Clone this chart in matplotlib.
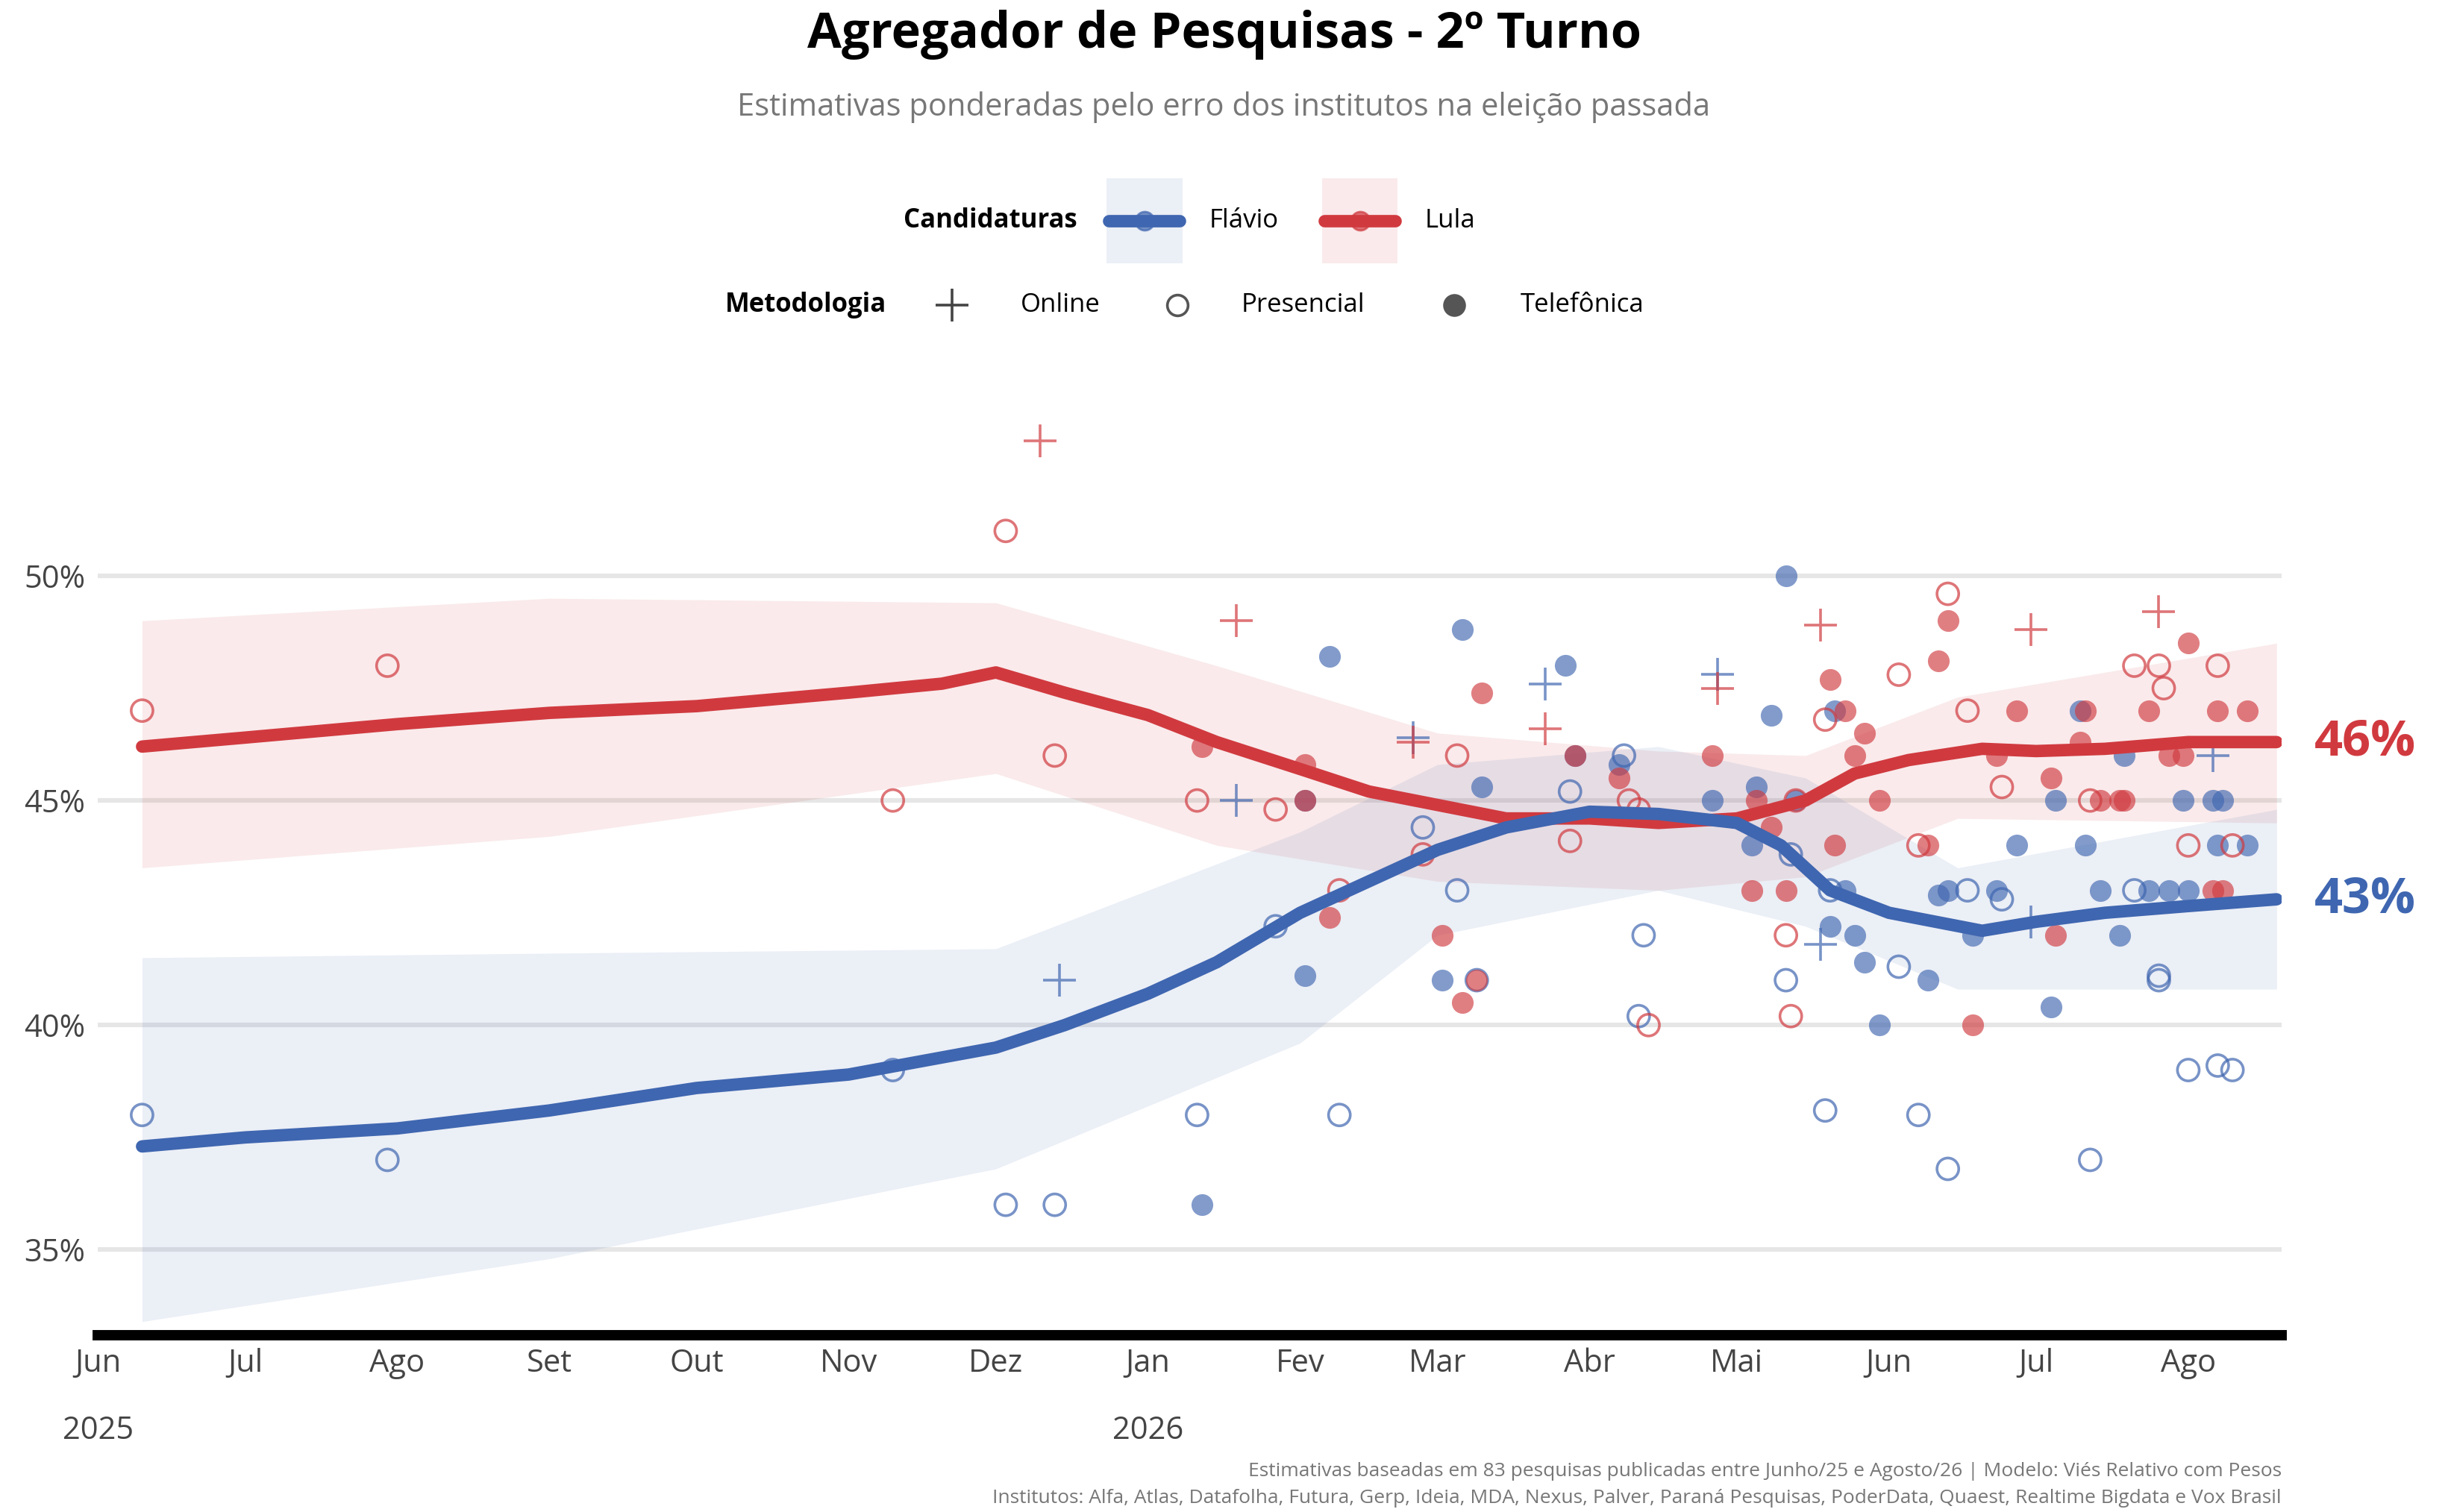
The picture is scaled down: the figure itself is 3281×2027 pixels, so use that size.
import matplotlib
matplotlib.use("Agg")
import matplotlib.pyplot as plt
import matplotlib.dates as mdates
import matplotlib.transforms as mtransforms
import pandas as pd
from matplotlib.lines import Line2D
from matplotlib.patches import Rectangle

BLUE = "#3F66B0"
RED = "#D03A3F"
FONT = "Open Sans"

# smoothed estimates
line_dates_lula = ["2025-06-10", "2025-07-01", "2025-08-01", "2025-09-01", "2025-10-01", "2025-11-01",
                   "2025-11-20", "2025-12-01", "2025-12-15", "2026-01-01", "2026-01-15", "2026-02-01",
                   "2026-02-15", "2026-03-01", "2026-03-15", "2026-04-01", "2026-04-15", "2026-05-01",
                   "2026-05-15", "2026-05-25", "2026-06-05", "2026-06-20", "2026-07-01", "2026-07-15",
                   "2026-08-01", "2026-08-19"]
lula_line = [46.2, 46.4, 46.7, 46.95, 47.1, 47.4, 47.6, 47.85, 47.4, 46.9, 46.3, 45.7,
             45.2, 44.9, 44.6, 44.6, 44.5, 44.6, 45.0, 45.6, 45.9, 46.15, 46.1, 46.15, 46.3, 46.3]

line_dates_flavio = ["2025-06-10", "2025-07-01", "2025-08-01", "2025-09-01", "2025-10-01", "2025-11-01",
                     "2025-12-01", "2025-12-15", "2026-01-01", "2026-01-15", "2026-02-01", "2026-02-15",
                     "2026-03-01", "2026-03-15", "2026-04-01", "2026-04-15", "2026-05-01", "2026-05-10",
                     "2026-05-20", "2026-06-01", "2026-06-20", "2026-07-01", "2026-07-15", "2026-08-01",
                     "2026-08-19"]
flavio_line = [37.3, 37.5, 37.7, 38.1, 38.6, 38.9, 39.5, 40.0, 40.7, 41.4, 42.5, 43.2,
               43.9, 44.4, 44.75, 44.7, 44.5, 44.0, 43.0, 42.5, 42.1, 42.3, 42.5, 42.65, 42.8]

band_dates_lula = ["2025-06-10", "2025-09-01", "2025-12-01", "2026-01-15", "2026-03-01", "2026-04-15",
                   "2026-05-15", "2026-06-15", "2026-08-19"]
lula_upper = [49.0, 49.5, 49.4, 48.0, 46.5, 46.1, 46.0, 47.3, 48.5]
lula_lower = [43.5, 44.2, 45.6, 44.0, 43.2, 43.0, 43.3, 44.6, 44.5]

band_dates_flavio = ["2025-06-10", "2025-09-01", "2025-12-01", "2026-02-01", "2026-03-01", "2026-04-15",
                     "2026-05-15", "2026-06-15", "2026-08-19"]
flavio_upper = [41.5, 41.6, 41.7, 44.3, 45.8, 46.2, 45.5, 43.5, 44.8]
flavio_lower = [33.4, 34.8, 36.8, 39.6, 42.0, 43.0, 42.2, 40.8, 40.8]

# polls: (date, value)
lula_presencial = [("2025-06-10", 47.0), ("2025-07-30", 48.0), ("2025-11-10", 45.0), ("2025-12-03", 51.0),
                   ("2025-12-13", 46.0), ("2026-01-11", 45.0), ("2026-01-27", 44.8), ("2026-02-09", 43.0),
                   ("2026-02-26", 43.8), ("2026-03-05", 46.0), ("2026-03-28", 44.1), ("2026-04-09", 45.0),
                   ("2026-04-11", 44.8), ("2026-04-13", 40.0), ("2026-05-11", 42.0), ("2026-05-12", 40.2),
                   ("2026-05-13", 45.0), ("2026-05-19", 46.8), ("2026-06-03", 47.8), ("2026-06-07", 44.0),
                   ("2026-06-13", 49.6), ("2026-06-17", 47.0), ("2026-06-24", 45.3), ("2026-07-12", 45.0),
                   ("2026-07-21", 48.0), ("2026-07-26", 48.0), ("2026-07-27", 47.5), ("2026-08-01", 44.0),
                   ("2026-08-07", 48.0), ("2026-08-10", 44.0)]
lula_telefonica = [("2026-01-12", 46.2), ("2026-02-02", 45.8), ("2026-02-02", 45.0), ("2026-02-07", 42.4),
                   ("2026-03-02", 42.0), ("2026-03-06", 40.5), ("2026-03-10", 47.4), ("2026-03-09", 41.0),
                   ("2026-03-29", 46.0), ("2026-04-07", 45.5), ("2026-04-26", 46.0), ("2026-05-04", 43.0),
                   ("2026-05-05", 45.0), ("2026-05-08", 44.4), ("2026-05-11", 43.0), ("2026-05-20", 47.7),
                   ("2026-05-21", 44.0), ("2026-05-23", 47.0), ("2026-05-25", 46.0), ("2026-05-27", 46.5),
                   ("2026-05-30", 45.0), ("2026-06-09", 44.0), ("2026-06-11", 48.1), ("2026-06-13", 49.0),
                   ("2026-06-18", 40.0), ("2026-06-23", 46.0), ("2026-06-27", 47.0), ("2026-07-04", 45.5),
                   ("2026-07-05", 42.0), ("2026-07-10", 46.3), ("2026-07-11", 47.0), ("2026-07-14", 45.0),
                   ("2026-07-18", 45.0), ("2026-07-19", 45.0), ("2026-07-24", 47.0), ("2026-07-28", 46.0),
                   ("2026-07-31", 46.0), ("2026-08-01", 48.5), ("2026-08-06", 43.0), ("2026-08-07", 47.0),
                   ("2026-08-08", 43.0), ("2026-08-13", 47.0)]
lula_online = [("2025-12-10", 53.0), ("2026-01-19", 49.0), ("2026-02-24", 46.3), ("2026-03-23", 46.6),
               ("2026-04-27", 47.5), ("2026-05-18", 48.9), ("2026-06-30", 48.8), ("2026-07-26", 49.2)]

flavio_presencial = [("2025-06-10", 38.0), ("2025-07-30", 37.0), ("2025-11-10", 39.0), ("2025-12-03", 36.0),
                     ("2025-12-13", 36.0), ("2026-01-11", 38.0), ("2026-01-27", 42.2), ("2026-02-09", 38.0),
                     ("2026-02-26", 44.4), ("2026-03-05", 43.0), ("2026-03-09", 41.0), ("2026-03-28", 45.2),
                     ("2026-04-08", 46.0), ("2026-04-11", 40.2), ("2026-04-12", 42.0), ("2026-05-11", 41.0),
                     ("2026-05-12", 43.8), ("2026-05-19", 38.1), ("2026-05-20", 43.0), ("2026-06-03", 41.3),
                     ("2026-06-07", 38.0), ("2026-06-13", 36.8), ("2026-06-17", 43.0), ("2026-06-24", 42.8),
                     ("2026-07-12", 37.0), ("2026-07-21", 43.0), ("2026-07-26", 41.1), ("2026-07-26", 41.0),
                     ("2026-08-01", 39.0), ("2026-08-07", 39.1), ("2026-08-10", 39.0)]
flavio_telefonica = [("2026-01-12", 36.0), ("2026-02-02", 41.1), ("2026-02-02", 45.0), ("2026-02-07", 48.2),
                     ("2026-03-02", 41.0), ("2026-03-06", 48.8), ("2026-03-10", 45.3), ("2026-03-27", 48.0),
                     ("2026-03-29", 46.0), ("2026-04-07", 45.8), ("2026-04-26", 45.0), ("2026-05-04", 44.0),
                     ("2026-05-05", 45.3), ("2026-05-08", 46.9), ("2026-05-11", 50.0), ("2026-05-13", 45.0),
                     ("2026-05-20", 42.2), ("2026-05-21", 47.0), ("2026-05-23", 43.0), ("2026-05-25", 42.0),
                     ("2026-05-27", 41.4), ("2026-05-30", 40.0), ("2026-06-09", 41.0), ("2026-06-11", 42.9),
                     ("2026-06-13", 43.0), ("2026-06-18", 42.0), ("2026-06-23", 43.0), ("2026-06-27", 44.0),
                     ("2026-07-04", 40.4), ("2026-07-05", 45.0), ("2026-07-10", 47.0), ("2026-07-11", 44.0),
                     ("2026-07-14", 43.0), ("2026-07-18", 42.0), ("2026-07-19", 46.0), ("2026-07-24", 43.0),
                     ("2026-07-28", 43.0), ("2026-07-31", 45.0), ("2026-08-01", 43.0), ("2026-08-06", 45.0),
                     ("2026-08-07", 44.0), ("2026-08-08", 45.0), ("2026-08-13", 44.0)]
flavio_online = [("2025-12-14", 41.0), ("2026-01-19", 45.0), ("2026-02-24", 46.4), ("2026-03-23", 47.6),
                 ("2026-04-27", 47.8), ("2026-05-18", 41.8), ("2026-06-30", 42.3), ("2026-08-06", 46.0)]

month_ticks = ["2025-06-01", "2025-07-01", "2025-08-01", "2025-09-01", "2025-10-01", "2025-11-01",
               "2025-12-01", "2026-01-01", "2026-02-01", "2026-03-01", "2026-04-01", "2026-05-01",
               "2026-06-01", "2026-07-01", "2026-08-01"]
month_labels = ["Jun", "Jul", "Ago", "Set", "Out", "Nov", "Dez", "Jan", "Fev", "Mar", "Abr", "Mai",
                "Jun", "Jul", "Ago"]


def pts(data):
    d, v = zip(*data)
    return pd.to_datetime(list(d)), list(v)


fig = plt.figure(figsize=(16.405, 10.135), dpi=200)
ax = fig.add_axes([0.040, 0.117, 0.892, 0.621])

for y in [35, 40, 45, 50]:
    ax.axhline(y, color="#e6e6e6", lw=2.2, zorder=0)

ax.fill_between(pd.to_datetime(band_dates_lula), lula_lower, lula_upper, color=RED, alpha=0.10, lw=0, zorder=1)
ax.fill_between(pd.to_datetime(band_dates_flavio), flavio_lower, flavio_upper, color=BLUE, alpha=0.10, lw=0, zorder=1)

for color, pres, tel, onl in [(BLUE, flavio_presencial, flavio_telefonica, flavio_online),
                              (RED, lula_presencial, lula_telefonica, lula_online)]:
    x, y = pts(pres)
    ax.scatter(x, y, s=110, facecolors="none", edgecolors=color, linewidths=1.3, alpha=0.7, zorder=2)
    x, y = pts(tel)
    ax.scatter(x, y, s=110, color=color, alpha=0.65, linewidths=0, zorder=2)
    x, y = pts(onl)
    ax.scatter(x, y, s=260, marker="+", color=color, linewidths=1.3, alpha=0.7, zorder=2)

ax.plot(pd.to_datetime(line_dates_lula), lula_line, color=RED, lw=6, solid_capstyle="round", zorder=3)
ax.plot(pd.to_datetime(line_dates_flavio), flavio_line, color=BLUE, lw=6, solid_capstyle="round", zorder=3)

ax.text(1.015, 46.3, f"{round(lula_line[-1])}%", transform=mtransforms.blended_transform_factory(ax.transAxes, ax.transData),
        color=RED, fontsize=24, fontweight="bold", va="center", family=FONT)
ax.text(1.015, 42.8, f"{round(flavio_line[-1])}%", transform=mtransforms.blended_transform_factory(ax.transAxes, ax.transData),
        color=BLUE, fontsize=24, fontweight="bold", va="center", family=FONT)

ax.set_xlim(pd.Timestamp("2025-06-01"), pd.Timestamp("2026-08-20"))
ax.set_ylim(33.1, 54)
ax.set_yticks([35, 40, 45, 50])
ax.set_yticklabels(["35%", "40%", "45%", "50%"], family=FONT, fontsize=15, color="#444444")
ax.set_xticks(pd.to_datetime(month_ticks))
ax.set_xticklabels(month_labels, family=FONT, fontsize=15, color="#444444")
ax.tick_params(axis="both", length=0, pad=6)
for s in ["top", "right", "left"]:
    ax.spines[s].set_visible(False)
ax.spines["bottom"].set_linewidth(5)
ax.spines["bottom"].set_color("black")

trans = mtransforms.blended_transform_factory(ax.transData, ax.transAxes)
ax.text(pd.Timestamp("2025-06-01"), -0.085, "2025", transform=trans, ha="center", va="top",
        family=FONT, fontsize=15, color="#444444")
ax.text(pd.Timestamp("2026-01-01"), -0.085, "2026", transform=trans, ha="center", va="top",
        family=FONT, fontsize=15, color="#444444")

fig.text(0.5, 0.977, "Agregador de Pesquisas - 2º Turno", ha="center", va="center",
         fontsize=24, fontweight="bold", family=FONT)
fig.text(0.5, 0.929, "Estimativas ponderadas pelo erro dos institutos na eleição passada", ha="center",
         va="center", fontsize=15, color="#777777", family=FONT)

# legend row 1
ly = 0.854
fig.text(0.44, ly, "Candidaturas", ha="right", va="center", fontsize=12.5, fontweight="bold", family=FONT)
for x0, color, name in [(0.452, BLUE, "Flávio"), (0.540, RED, "Lula")]:
    fig.patches.append(Rectangle((x0, ly - 0.028), 0.031, 0.056, transform=fig.transFigure,
                                 color=color, alpha=0.10, lw=0))
    fig.lines.append(Line2D([x0 + 0.001, x0 + 0.030], [ly, ly], transform=fig.transFigure,
                            color=color, lw=6, solid_capstyle="round"))
    fig.lines.append(Line2D([x0 + 0.0155], [ly], transform=fig.transFigure, marker="o",
                            markersize=9, color=color, alpha=0.7, lw=0))
    fig.text(x0 + 0.042, ly, name, va="center", fontsize=12.5, family=FONT)

# legend row 2
ly = 0.798
fig.text(0.362, ly, "Metodologia", ha="right", va="center", fontsize=12.5, fontweight="bold", family=FONT)
fig.lines.append(Line2D([0.389], [ly], transform=fig.transFigure, marker="+", markersize=16,
                        markeredgewidth=1.3, color="#444444", lw=0))
fig.text(0.417, ly, "Online", va="center", fontsize=12.5, family=FONT)
fig.lines.append(Line2D([0.481], [ly], transform=fig.transFigure, marker="o", markersize=10,
                        markerfacecolor="none", markeredgecolor="#555555", markeredgewidth=1.3, lw=0))
fig.text(0.507, ly, "Presencial", va="center", fontsize=12.5, family=FONT)
fig.lines.append(Line2D([0.594], [ly], transform=fig.transFigure, marker="o", markersize=10,
                        color="#555555", lw=0))
fig.text(0.621, ly, "Telefônica", va="center", fontsize=12.5, family=FONT)

fig.text(0.932, 0.027, "Estimativas baseadas em 83 pesquisas publicadas entre Junho/25 e Agosto/26 | Modelo: Viés Relativo com Pesos",
         ha="right", va="center", fontsize=9.5, color="#777777", family=FONT)
fig.text(0.932, 0.003 + 0.0, "Institutos: Alfa, Atlas, Datafolha, Futura, Gerp, Ideia, MDA, Nexus, Palver, Paraná Pesquisas, PoderData, Quaest, Realtime Bigdata e Vox Brasil",
         ha="right", va="bottom", fontsize=9.5, color="#777777", family=FONT)

fig.savefig("out.png", dpi=200)
